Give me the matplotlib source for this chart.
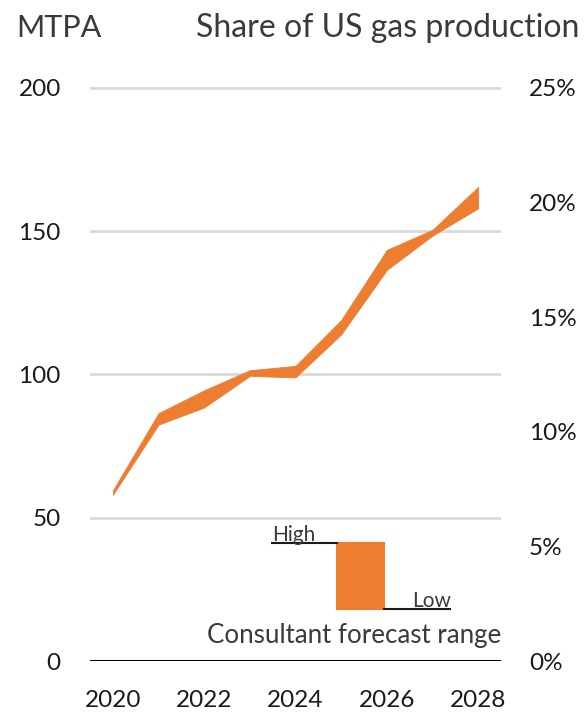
import matplotlib
matplotlib.use("Agg")
import matplotlib.pyplot as plt
from matplotlib.patches import Rectangle
from matplotlib.lines import Line2D

years = [2020, 2021, 2022, 2023, 2024, 2025, 2026, 2027, 2028]
high = [59.5, 86.5, 94.5, 101.5, 103.0, 119.0, 143.5, 150.5, 165.5]
low = [58.0, 82.5, 88.5, 99.5, 99.0, 114.0, 136.5, 148.5, 158.0]
left_ticks = [0, 50, 100, 150, 200]
right_ticks = [0, 5, 10, 15, 20, 25]
x_ticks = [2020, 2022, 2024, 2026, 2028]

ORANGE = "#ED7D31"
TXT = "#3a3a3a"
FONT = "Lato"
plt.rcParams["font.family"] = [FONT, "DejaVu Sans"]

W, H = 585, 712
fig = plt.figure(figsize=(W / 100, H / 100), dpi=100)

def fx(px):
    return px / W

def fy(py):
    return 1 - py / H

YTOP = 210
ax_l, ax_r = 90, 501
ax_b, y200 = 661, 88
unit = (ax_b - y200) / 200
ax_h = unit * YTOP
ax = fig.add_axes([fx(ax_l), fy(ax_b), (ax_r - ax_l) / W, ax_h / H])
ax.set_xlim(2019.5, 2028.5)
ax.set_ylim(0, YTOP)

ax.fill_between(years, low, high, color=ORANGE, linewidth=0.6, edgecolor=ORANGE, zorder=3)

for v in left_ticks[1:]:
    ax.axhline(v, color="#d9d9d9", lw=2, zorder=1)
ax.axhline(0, color="black", lw=2.2, zorder=4)

ax.set_yticks(left_ticks)
ax.set_xticks(x_ticks)
ax.set_xticklabels([str(x) for x in x_ticks])
ax.tick_params(axis="both", length=0, labelsize=17.5, colors="#1a1a1a")
ax.tick_params(axis="y", pad=21)
ax.tick_params(axis="x", pad=21)
for s in ax.spines.values():
    s.set_visible(False)

ax2 = ax.twinx()
ax2.set_ylim(0, 25 * YTOP / 200)
ax2.set_yticks(right_ticks)
ax2.set_yticklabels([f"{v}%" for v in right_ticks])
ax2.tick_params(axis="y", length=0, labelsize=17.5, colors="#1a1a1a", pad=20)
for s in ax2.spines.values():
    s.set_visible(False)

# header labels
fig.text(fx(16), fy(28), "MTPA", fontsize=22, color=TXT, ha="left", va="center")
fig.text(fx(579), fy(28), "Share of US gas production", fontsize=23, color=TXT,
         ha="right", va="center")

# legend block
fig.patches.append(Rectangle((fx(336), fy(610)), (385 - 336) / W, (610 - 542) / H,
                             transform=fig.transFigure, facecolor=ORANGE, edgecolor="none"))
fig.lines.append(Line2D([fx(272), fx(337)], [fy(543), fy(543)], transform=fig.transFigure,
                        color="#1a1a1a", lw=1.5))
fig.lines.append(Line2D([fx(384), fx(450)], [fy(609), fy(609)], transform=fig.transFigure,
                        color="#1a1a1a", lw=1.5))
fig.text(fx(272), fy(541), "High", fontsize=15, color=TXT, ha="left", va="baseline")
fig.text(fx(451), fy(607), "Low", fontsize=15, color=TXT, ha="right", va="baseline")
fig.text(fx(501), fy(636), "Consultant forecast range", fontsize=18.6, color=TXT,
         ha="right", va="center")

fig.savefig("out.png", dpi=100)
